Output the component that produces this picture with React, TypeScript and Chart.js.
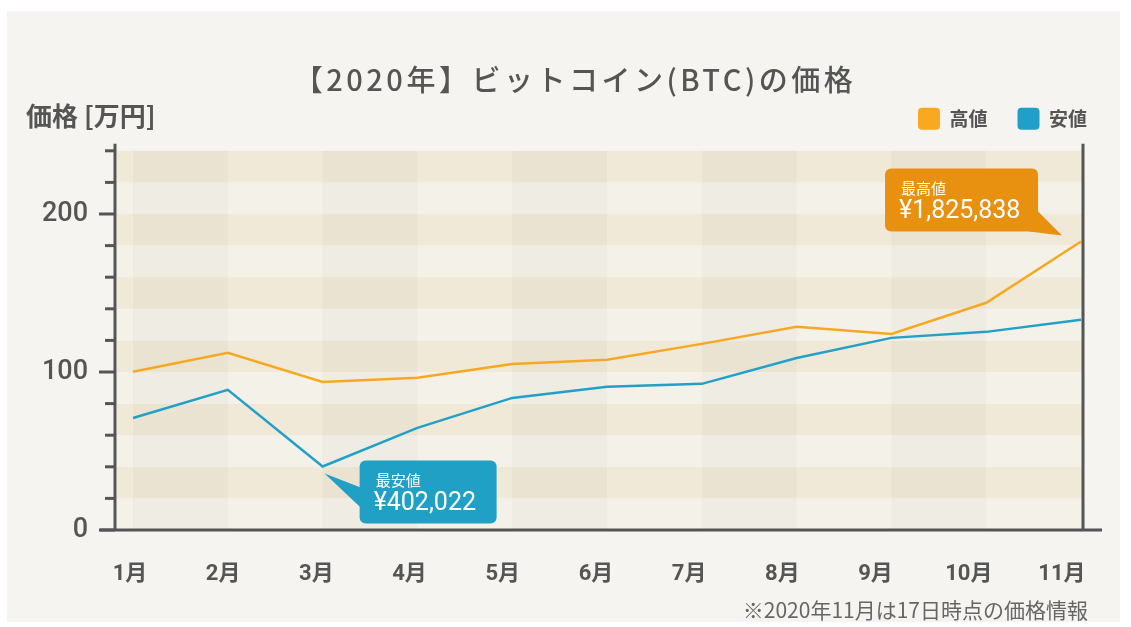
import React, { useEffect, useRef } from "react";
import { Chart, registerables } from "chart.js";

Chart.register(...registerables);

const months = ["1月", "2月", "3月", "4月", "5月", "6月", "7月", "8月", "9月", "10月", "11月"];
// 価格 [万円]
const highValues = [100.1, 112.1, 93.7, 96.3, 105.1, 107.7, 117.8, 128.6, 124.1, 143.8, 182.5838];
const lowValues = [70.9, 88.7, 40.2022, 64.6, 83.6, 90.6, 92.5, 108.9, 121.6, 125.4, 133.0];
const seriesNames = ["高値", "安値"];
const yTickLabels = [0, 100, 200];

const TITLE = "【2020年】ビットコイン(BTC)の価格";
const Y_TITLE = "価格 [万円]";
const NOTE = "※2020年11月は17日時点の価格情報";
const HIGH_LABEL = "最高値";
const LOW_LABEL = "最安値";

const ORANGE = "#f7a823";
const BLUE = "#22a0c8";
const ORANGE_BOX = "#e8900f";
const BLUE_BOX = "#21a0c6";
const AXIS = "#555555";
const TEXT = "#555555";
const JP = "'Noto Sans CJK JP', sans-serif";
const NUM = "Roboto, 'Noto Sans CJK JP', sans-serif";

const yen = (v: number) => "¥" + Math.round(v * 10000).toLocaleString("en-US");

const decorPlugin = {
  id: "decor",
  beforeDatasetsDraw(chart: any) {
    const { ctx, chartArea } = chart;
    const ys = chart.scales.y;
    const xs = chart.scales.x;
    ctx.save();
    for (let i = 0; i < 12; i++) {
      const y0 = ys.getPixelForValue(i * 20);
      const y1 = ys.getPixelForValue((i + 1) * 20);
      ctx.fillStyle = i % 2 === 1 ? "#f0e9d7" : "#f4f2e8";
      ctx.fillRect(chartArea.left, y1, chartArea.right - chartArea.left, y0 - y1);
    }
    ctx.fillStyle = "rgba(120,120,110,0.045)";
    for (let i = 0; i < months.length - 1; i += 2) {
      const x0 = xs.getPixelForValue(i);
      const x1 = xs.getPixelForValue(i + 1);
      ctx.fillRect(x0, chartArea.top, x1 - x0, chartArea.bottom - chartArea.top);
    }
    ctx.restore();
  },
  afterDatasetsDraw(chart: any) {
    const { ctx, chartArea } = chart;
    const ys = chart.scales.y;
    const xs = chart.scales.x;
    ctx.save();
    ctx.strokeStyle = AXIS;
    ctx.lineWidth = 3;
    const lx = chartArea.left - 2;
    const rx = chartArea.right + 1;
    const by = chartArea.bottom;
    ctx.beginPath();
    ctx.moveTo(lx, chartArea.top - 7);
    ctx.lineTo(lx, by);
    ctx.moveTo(rx, chartArea.top - 7);
    ctx.lineTo(rx, by);
    ctx.moveTo(lx - 15, by);
    ctx.lineTo(rx + 19, by);
    ctx.stroke();
    ys.ticks.forEach((t: any) => {
      const y = ys.getPixelForValue(t.value);
      const len = t.value % 100 === 0 ? 16 : 10;
      ctx.beginPath();
      ctx.moveTo(lx - len, y);
      ctx.lineTo(lx, y);
      ctx.stroke();
    });

    const hiIdx = highValues.indexOf(Math.max(...highValues));
    const loIdx = lowValues.indexOf(Math.min(...lowValues));
    const drawBox = (x: number, y: number, w: number, h: number, color: string, tail: number[][], label: string, value: string) => {
      ctx.fillStyle = color;
      ctx.beginPath();
      ctx.roundRect(x, y, w, h, 6);
      ctx.fill();
      ctx.beginPath();
      ctx.moveTo(tail[0][0], tail[0][1]);
      ctx.lineTo(tail[1][0], tail[1][1]);
      ctx.lineTo(tail[2][0], tail[2][1]);
      ctx.closePath();
      ctx.fill();
      ctx.fillStyle = "#ffffff";
      ctx.textAlign = "left";
      ctx.textBaseline = "middle";
      ctx.font = `400 15px ${JP}`;
      ctx.fillText(label, x + 16, y + 20);
      ctx.font = `400 25px ${NUM}`;
      ctx.fillText(value, x + 14, y + 43);
    };
    {
      const px = xs.getPixelForValue(hiIdx);
      const py = ys.getPixelForValue(highValues[hiIdx]);
      const bx = px - 196, by2 = py - 73, w = 153, h = 63;
      drawBox(bx, by2, w, h, ORANGE_BOX,
        [[bx + w, by2 + h - 20], [bx + w - 9, by2 + h], [px - 19, py - 6]],
        HIGH_LABEL, yen(highValues[hiIdx]));
    }
    {
      const px = xs.getPixelForValue(loIdx);
      const py = ys.getPixelForValue(lowValues[loIdx]);
      const bx = px + 37, by2 = py - 6, w = 137, h = 63;
      drawBox(bx, by2, w, h, BLUE_BOX,
        [[bx + 1, by2 + 27], [bx + 1, by2 + 47], [px + 2, py + 7]],
        LOW_LABEL, yen(lowValues[loIdx]));
    }

    ctx.fillStyle = TEXT;
    ctx.textAlign = "left";
    ctx.textBaseline = "middle";
    ctx.font = `700 26px ${JP}`;
    ctx.fillText(Y_TITLE, 26, 116);
    ctx.font = `400 21px ${JP}`;
    ctx.fillStyle = "#666666";
    ctx.textAlign = "right";
    ctx.fillText(NOTE, 1088, 610);
    ctx.restore();
  },
};

export default function App() {
  const ref = useRef<HTMLCanvasElement>(null);
  useEffect(() => {
    if (!ref.current) return;
    const chart: any = new Chart(ref.current, {
      type: "line",
      data: {
        datasets: [
          {
            label: seriesNames[0],
            data: highValues.map((v, i) => ({ x: i, y: v })),
            borderColor: ORANGE,
            backgroundColor: "#f9a91f",
            borderWidth: 2.5,
            pointRadius: 0,
            tension: 0,
            xAxisID: "x",
            yAxisID: "y",
          },
          {
            label: seriesNames[1],
            data: lowValues.map((v, i) => ({ x: i, y: v })),
            borderColor: BLUE,
            backgroundColor: "#20a0c8",
            borderWidth: 2.5,
            pointRadius: 0,
            tension: 0,
            xAxisID: "x",
            yAxisID: "y",
          },
        ],
      },
      options: {
        responsive: false,
        animation: false,
        layout: { padding: { left: 33, right: 14, top: 12, bottom: 0 } },
        plugins: {
          title: {
            display: true,
            text: TITLE,
            color: TEXT,
            font: { family: JP, size: 29, weight: "500" },
            padding: { top: 51, bottom: -20 },
          },
          legend: {
            display: true,
            position: "top",
            align: "end",
            labels: {
              boxWidth: 22,
              boxHeight: 22,
              padding: 30,
              color: TEXT,
              useBorderRadius: true,
              borderRadius: 4,
              font: { family: JP, size: 19, weight: "bold" },
              generateLabels: (c: any) =>
                Chart.defaults.plugins.legend.labels
                  .generateLabels(c)
                  .map((l: any) => ({ ...l, lineWidth: 0 })),
            },
          },
          tooltip: { enabled: false },
        },
        scales: {
          x: {
            type: "linear",
            display: false,
            min: -0.169,
            max: 10.01,
          },
          xTop: {
            type: "linear",
            position: "top",
            grid: { display: false, drawTicks: false },
            border: { display: false },
            ticks: { display: false },
            afterFit: (s: any) => {
              s.height = 11;
            },
          },
          x2: {
            type: "linear",
            position: "bottom",
            min: -0.139,
            max: 10.215,
            grid: { display: false, drawTicks: false },
            border: { display: false },
            afterFit: (s: any) => {
              s.height = 97;
            },
            afterBuildTicks: (s: any) => {
              s.ticks = months.map((_, i) => ({ value: i }));
            },
            ticks: {
              autoSkip: false,
              maxRotation: 0,
              padding: 31,
              color: TEXT,
              font: { family: NUM, size: 22, weight: "bold" },
              callback: (v: any) => months[v] ?? "",
            },
          },
          y: {
            type: "linear",
            position: "left",
            min: 0,
            max: 240,
            grid: { display: false, drawTicks: false },
            border: { display: false },
            afterFit: (s: any) => {
              s.width = 84;
            },
            ticks: {
              stepSize: 20,
              autoSkip: false,
              padding: 29,
              color: TEXT,
              font: { family: NUM, size: 27, weight: "500" },
              callback: (v: any) => (yTickLabels.includes(v) ? String(v) : ""),
            },
          },
          yR: {
            type: "linear",
            position: "right",
            grid: { display: false, drawTicks: false },
            border: { display: false },
            ticks: { display: false },
            afterFit: (s: any) => {
              s.width = 35;
            },
          },
        },
      },
      plugins: [decorPlugin],
    } as any);
    const tb = chart.titleBlock;
    if (tb) {
      const origDraw = tb.draw.bind(tb);
      tb.draw = (...args: any[]) => {
        const c = chart.ctx;
        c.save();
        c.letterSpacing = "3.5px";
        origDraw(...args);
        c.restore();
      };
      chart.update();
    }
    return () => chart.destroy();
  }, []);
  return (
    <div style={{ position: "fixed", left: 0, top: 0, width: 1131, height: 627, background: "#ffffff" }}>
      <div style={{ position: "absolute", left: 7, top: 11, width: 1113, height: 611, background: "#f5f4f0" }} />
      <canvas ref={ref} width={1131} height={627} style={{ position: "absolute", left: 0, top: 0, width: 1131, height: 627 }} />
    </div>
  );
}
